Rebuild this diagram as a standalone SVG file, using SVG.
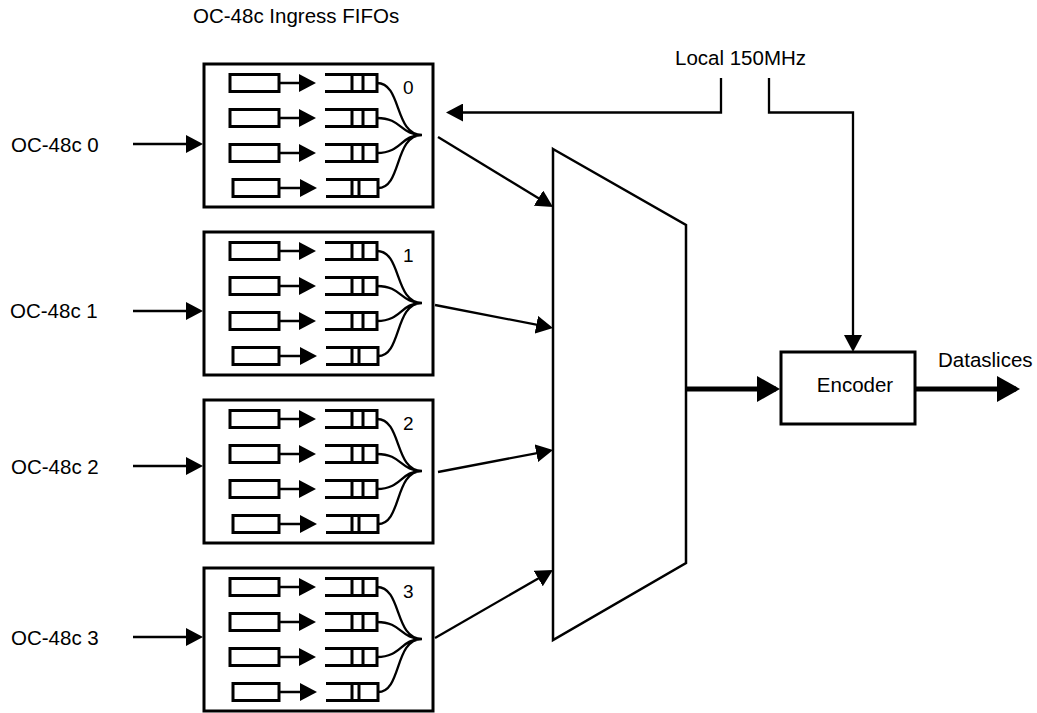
<svg xmlns="http://www.w3.org/2000/svg" xmlns:xlink="http://www.w3.org/1999/xlink" width="1037" height="713" viewBox="0 0 1037 713">
<style>
text{font-family:"Liberation Sans",Arial,sans-serif;fill:#000}
.lbl{font-size:20.5px}
.num{font-size:19px}
.box{fill:#fff;stroke:#000;stroke-width:3}
.in{fill:none;stroke:#000;stroke-width:3}
.cv{fill:none;stroke:#000;stroke-width:2.3}
.ln{fill:none;stroke:#000;stroke-width:2.3}
.thick{fill:none;stroke:#000;stroke-width:5}
</style>
<defs>
<marker id="ah" viewBox="0 0 17 18" refX="13" refY="9" markerWidth="17" markerHeight="18" markerUnits="userSpaceOnUse" orient="auto"><path d="M0,0 L17,9 L0,18 z" fill="#000"/></marker>
<marker id="ahs" viewBox="0 0 17 18" refX="13" refY="9" markerWidth="17" markerHeight="18" markerUnits="userSpaceOnUse" orient="auto"><path d="M0,0 L17,9 L0,18 z" fill="#000"/></marker>
<marker id="aht" viewBox="0 0 23 26" refX="19" refY="13" markerWidth="23" markerHeight="26" markerUnits="userSpaceOnUse" orient="auto"><path d="M0,0 L23,13 L0,26 z" fill="#000"/></marker>
<g id="fifos">
<rect class="in" x="26" y="10.5" width="49" height="17"/>
<rect class="in" x="26" y="45.5" width="49" height="17"/>
<rect class="in" x="26" y="80.5" width="49" height="17"/>
<rect class="in" x="29" y="115.5" width="46" height="17"/>
<path class="ln" d="M75,19 H108" marker-end="url(#ahs)"/>
<path class="ln" d="M75,54 H108" marker-end="url(#ahs)"/>
<path class="ln" d="M75,89 H108" marker-end="url(#ahs)"/>
<path class="ln" d="M75,124 H109" marker-end="url(#ahs)"/>
<path class="in" d="M121,10.5 H173 V27.5 H121 M148,10.5 V27.5 M159,10.5 V27.5"/>
<path class="in" d="M121,45.5 H173 V62.5 H121 M148,45.5 V62.5 M159,45.5 V62.5"/>
<path class="in" d="M121,80.5 H173 V97.5 H121 M148,80.5 V97.5 M159,80.5 V97.5"/>
<path class="in" d="M122,115.5 H174 V132.5 H122 M148,115.5 V132.5 M155,115.5 V132.5"/>
<path class="cv" d="M173,19 C198,19 190,71 218,71 M173,54 C198,54 196,71 218,71 M173,89 C198,89 196,71 218,71 M174,124 C198,124 190,71 218,71"/>
</g>
</defs>
<rect width="1037" height="713" fill="#fff"/>
<text class="lbl" x="193" y="23">OC-48c Ingress FIFOs</text>
<g id="fifo0">
<rect class="box" x="204" y="64" width="229" height="143"/>
<use xlink:href="#fifos" href="#fifos" transform="translate(204,64)"/>
<text class="num" x="403" y="94">0</text>
</g>
<g id="fifo1">
<rect class="box" x="204" y="232" width="229" height="143"/>
<use xlink:href="#fifos" href="#fifos" transform="translate(204,232)"/>
<text class="num" x="403" y="262">1</text>
</g>
<g id="fifo2">
<rect class="box" x="204" y="400" width="229" height="143"/>
<use xlink:href="#fifos" href="#fifos" transform="translate(204,400)"/>
<text class="num" x="403" y="430">2</text>
</g>
<g id="fifo3">
<rect class="box" x="204" y="568" width="229" height="143"/>
<use xlink:href="#fifos" href="#fifos" transform="translate(204,568)"/>
<text class="num" x="403" y="598">3</text>
</g>
<g id="in0"><text class="lbl" x="11" y="152">OC-48c 0</text></g>
<g id="in1"><text class="lbl" x="10" y="318">OC-48c 1</text></g>
<g id="in2"><text class="lbl" x="11" y="474">OC-48c 2</text></g>
<g id="in3"><text class="lbl" x="11" y="645">OC-48c 3</text></g>
<g id="mux"><polygon points="553,149 686,225 686,563 553,640" fill="#fff" stroke="#000" stroke-width="2.5"/></g>
<g id="clock"><text class="lbl" x="675" y="65">Local 150MHz</text></g>
<g id="encoder">
<rect class="box" x="781" y="352" width="134" height="72"/>
<text class="lbl" x="855" y="392" text-anchor="middle">Encoder</text>
</g>
<g id="out"><text class="lbl" x="938" y="367">Dataslices</text></g>
<g id="connectors">
<path class="ln" d="M133,144 H199" marker-end="url(#ah)"/>
<path class="ln" d="M133,311 H199" marker-end="url(#ah)"/>
<path class="ln" d="M133,466 H199" marker-end="url(#ah)"/>
<path class="ln" d="M133,637 H199" marker-end="url(#ah)"/>
<path class="ln" d="M438,137 L549.6,204.9" marker-end="url(#ah)"/>
<path class="ln" d="M435,305 L549.1,327.2" marker-end="url(#ah)"/>
<path class="ln" d="M438,472 L549.1,450.8" marker-end="url(#ah)"/>
<path class="ln" d="M435,638 L549.5,572" marker-end="url(#ah)"/>
<path class="ln" d="M721,78 V112.5 H450" marker-end="url(#ah)"/>
<path class="ln" d="M769,78 V112.5 H853 V348" marker-end="url(#ah)"/>
<path class="thick" d="M686,389 H776" marker-end="url(#aht)"/>
<path class="thick" d="M915,389 H1016" marker-end="url(#aht)"/>
</g>
</svg>
